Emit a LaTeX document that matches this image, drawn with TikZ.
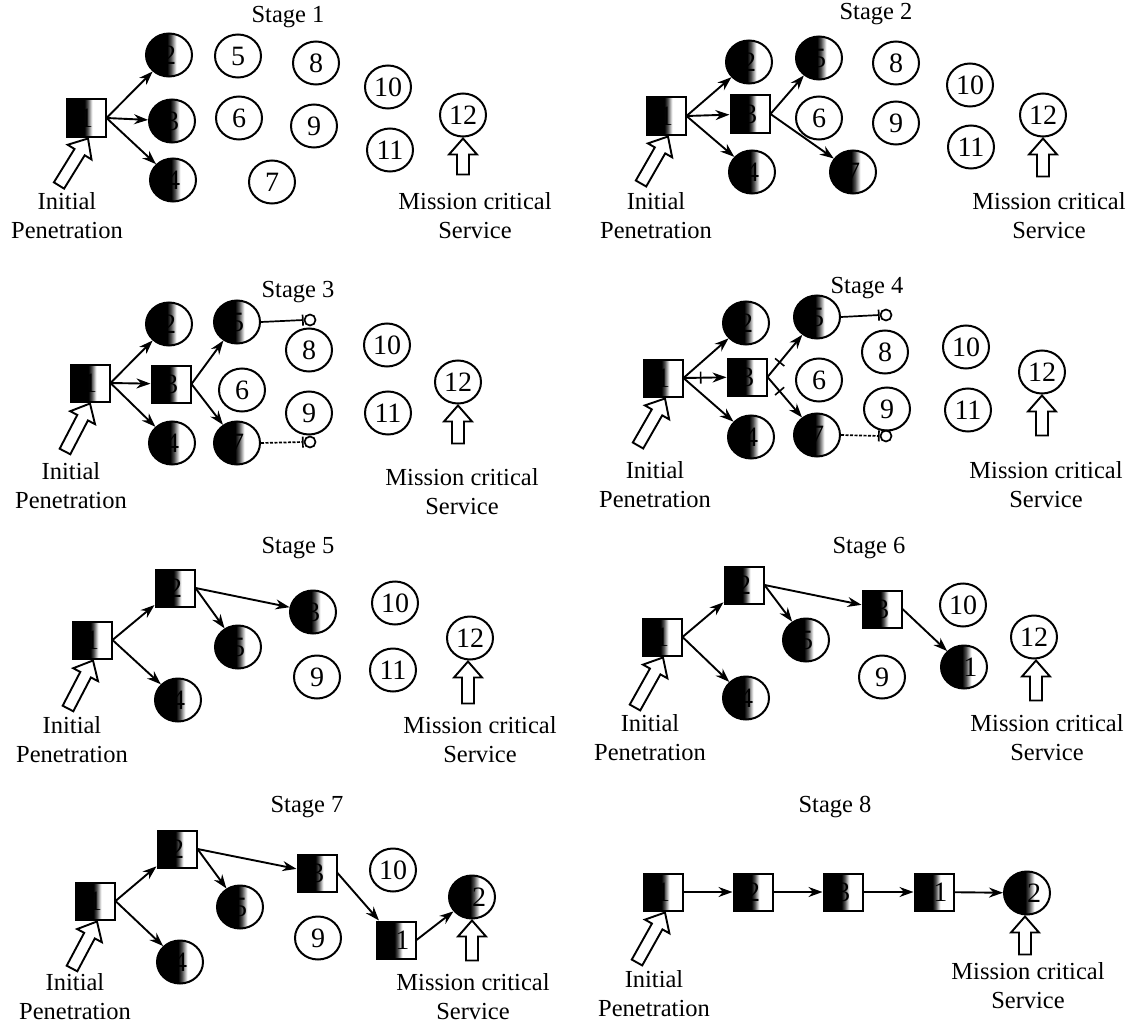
\documentclass[tikz,border=0pt]{standalone}
\usepackage{fontspec}
\setmainfont{Liberation Serif}
\usetikzlibrary{shapes.geometric,arrows.meta,calc}
\pgfdeclarehorizontalshading{halfdark}{100bp}{color(0bp)=(black); color(48bp)=(black); color(52bp)=(black!70); color(55bp)=(black!35); color(58bp)=(white); color(100bp)=(white)}
\newcommand\lblfont{\fontsize{24.5}{29}\selectfont}
\newcommand\digfont{\fontsize{28}{30}\selectfont}
\tikzset{
  wnode/.style={ellipse, draw, line width=2pt, minimum width=46pt, minimum height=43pt, inner sep=0pt, font=\digfont},
  bnode/.style={wnode, shading=halfdark},
  bsq/.style={rectangle, draw, line width=2pt, minimum width=39pt, minimum height=37pt, inner sep=0pt, shading=halfdark, font=\digfont},
  edge/.style={line width=1.9pt, -{Stealth[length=14pt,width=10pt]}},
  blk/.style={line width=1.7pt, -{Bar[width=11pt,line width=1.7pt]}},
  blkd/.style={blk, dash pattern=on 3pt off 1.5pt},
  tinyc/.style={circle, draw, line width=1.7pt, minimum size=11pt, inner sep=0pt},
  tick/.style={sloped, rectangle, draw, line width=1.6pt, minimum width=0pt, minimum height=12pt, inner sep=0pt},
  blockarr/.style={draw, line width=1.9pt, fill=white, line join=miter},
  lbl/.style={align=center, font=\lblfont},
  ttl/.style={font=\lblfont}
}
\newcommand\hollowarrow[2]{%
  \coordinate (habase) at ($(#2)!16pt!(#1)$);
  \draw[blockarr] (#2) -- ($(habase)!14pt!90:(#2)$) -- ($(habase)!6pt!90:(#2)$) -- ($(#1)!6pt!90:(#2)$) -- ($(#1)!6pt!-90:(#2)$) -- ($(habase)!6pt!-90:(#2)$) -- ($(habase)!14pt!-90:(#2)$) -- cycle;}
\begin{document}
\begin{tikzpicture}[x=1pt,y=-1pt]
\fill[white] (0,0) rectangle (1136,1025);
\useasboundingbox (0,0) rectangle (1136,1025);

% ---------------- Stage 1 ----------------
\node[ttl] (s1t) at (288,17) {Stage 1};
\node[bsq] (s1sq1) at (86,118) {1};
\node[bnode] (s1n2) at (169,55) {2};
\node[bnode] (s1n3) at (172,121) {3};
\node[bnode] (s1n4) at (173,180) {4};
\node[wnode] (s1n5) at (238,56) {5};
\node[wnode] (s1n6) at (239,118) {6};
\node[wnode] (s1n7) at (272,182) {7};
\node[wnode] (s1n8) at (316,63) {8};
\node[wnode] (s1n9) at (314,126) {9};
\node[wnode] (s1n10) at (388,87) {10};
\node[wnode] (s1n11) at (390,150) {11};
\node[wnode] (s1n12) at (463,115) {12};
\draw[edge] (s1sq1.east) -- (s1n2);
\draw[edge] (s1sq1.east) -- (s1n3);
\draw[edge] (s1sq1.east) -- (s1n4);
\node[lbl] (s1ip) at (67,216) {Initial\\Penetration};
\node[lbl] (s1mc) at (475,216) {Mission critical\\Service};
\coordinate (s1it) at ($(s1sq1.south)+(2,1)$);
\coordinate (s1ib) at ($(s1it)+(-29,47)$);
\hollowarrow{s1ib}{s1it}
\coordinate (s1mt) at ($(s1n12.south)+(0,1)$);
\coordinate (s1mb) at ($(s1mt)+(0,36)$);
\hollowarrow{s1mb}{s1mt}

% ---------------- Stage 2 ----------------
\node[ttl] (s2t) at (876,14) {Stage 2};
\node[bsq] (s2sq1) at (666,116) {1};
\node[bsq] (s2sq3) at (750,114) {3};
\node[bnode] (s2n2) at (749,62) {2};
\node[bnode] (s2n4) at (752,172) {4};
\node[bnode] (s2n5) at (819,58) {5};
\node[bnode] (s2n7) at (853,172) {7};
\node[wnode] (s2n6) at (819,118) {6};
\node[wnode] (s2n8) at (896,63) {8};
\node[wnode] (s2n9) at (896,123) {9};
\node[wnode] (s2n10) at (970,85) {10};
\node[wnode] (s2n11) at (971,147) {11};
\node[wnode] (s2n12) at (1043,115) {12};
\draw[edge] (s2sq1.east) -- (s2n2);
\draw[edge] (s2sq1.east) -- (s2sq3);
\draw[edge] (s2sq1.east) -- (s2n4);
\draw[edge] (s2sq3.east) -- (s2n5);
\draw[edge] (s2sq3.east) -- (s2n7);
\node[lbl] (s2ip) at (656,216) {Initial\\Penetration};
\node[lbl] (s2mc) at (1049,216) {Mission critical\\Service};
\coordinate (s2it) at ($(s2sq1.south)+(2,1)$);
\coordinate (s2ib) at ($(s2it)+(-27,47)$);
\hollowarrow{s2ib}{s2it}
\coordinate (s2mt) at ($(s2n12.south)+(0,1)$);
\coordinate (s2mb) at ($(s2mt)+(0,38)$);
\hollowarrow{s2mb}{s2mt}

% ---------------- Stage 3 ----------------
\node[ttl] (s3t) at (298,292) {Stage 3};
\node[bsq] (s3sq1) at (90,383) {1};
\node[bsq] (s3sq3) at (171,384) {3};
\node[bnode] (s3n2) at (169,324) {2};
\node[bnode] (s3n4) at (172,443) {4};
\node[bnode] (s3n5) at (237,322) {5};
\node[bnode] (s3n7) at (237,443) {7};
\node[wnode] (s3n6) at (242,390) {6};
\node[wnode] (s3n8) at (309,350) {8};
\node[wnode] (s3n9) at (309,413) {9};
\node[wnode] (s3n10) at (387,345) {10};
\node[wnode] (s3n11) at (388,413) {11};
\node[wnode] (s3n12) at (458,382) {12};
\node[tinyc] (s3b5) at (310,320) {};
\node[tinyc] (s3b7) at (310,442) {};
\draw[edge] (s3sq1.east) -- (s3n2);
\draw[edge] (s3sq1.east) -- (s3sq3);
\draw[edge] (s3sq1.east) -- (s3n4);
\draw[edge] (s3sq3.east) -- (s3n5);
\draw[edge] (s3sq3.east) -- (s3n7);
\draw[blk] (s3n5.east) -- (s3b5.west);
\draw[blkd] (s3n7.east) -- (s3b7.west);
\node[lbl] (s3ip) at (71,486) {Initial\\Penetration};
\node[lbl] (s3mc) at (462,492) {Mission critical\\Service};
\coordinate (s3it) at ($(s3sq1.south)+(0,1)$);
\coordinate (s3ib) at ($(s3it)+(-25,48)$);
\hollowarrow{s3ib}{s3it}
\coordinate (s3mt) at ($(s3n12.south)+(0,1)$);
\coordinate (s3mb) at ($(s3mt)+(0,38)$);
\hollowarrow{s3mb}{s3mt}

% ---------------- Stage 4 ----------------
\node[ttl] (s4t) at (867,288) {Stage 4};
\node[bsq] (s4sq1) at (663,378) {1};
\node[bsq] (s4sq3) at (747,377) {3};
\node[bnode] (s4n2) at (746,323) {2};
\node[bnode] (s4n4) at (751,437) {4};
\node[bnode] (s4n5) at (817,317) {5};
\node[bnode] (s4n7) at (817,435) {7};
\node[wnode] (s4n6) at (819,380) {6};
\node[wnode] (s4n8) at (885,352) {8};
\node[wnode] (s4n9) at (887,409) {9};
\node[wnode] (s4n10) at (966,347) {10};
\node[wnode] (s4n11) at (968,410) {11};
\node[wnode] (s4n12) at (1042,372) {12};
\node[tinyc] (s4b5) at (886,315) {};
\node[tinyc] (s4b7) at (886,436) {};
\draw[edge] (s4sq1.east) -- (s4n2);
\draw[edge] (s4sq1.east) -- node[tick, pos=0.4] (s4k1) {} (s4sq3);
\draw[edge] (s4sq1.east) -- (s4n4);
\draw[edge] (s4sq3.east) -- node[tick, pos=0.35] (s4k2) {} (s4n5);
\draw[edge] (s4sq3.east) -- node[tick, pos=0.35] (s4k3) {} (s4n7);
\draw[blk] (s4n5.east) -- (s4b5.west);
\draw[blkd] (s4n7.east) -- (s4b7.west);
\node[lbl] (s4ip) at (655,485) {Initial\\Penetration};
\node[lbl] (s4mc) at (1046,485) {Mission critical\\Service};
\coordinate (s4it) at ($(s4sq1.south)+(2,1)$);
\coordinate (s4ib) at ($(s4it)+(-27,47)$);
\hollowarrow{s4ib}{s4it}
\coordinate (s4mt) at ($(s4n12.south)+(0,1)$);
\coordinate (s4mb) at ($(s4mt)+(0,40)$);
\hollowarrow{s4mb}{s4mt}

% ---------------- Stage 5 ----------------
\node[ttl] (s5t) at (298,548) {Stage 5};
\node[bsq] (s5sq1) at (92,640) {1};
\node[bsq] (s5sq2) at (175,588) {2};
\node[bnode] (s5n3) at (313,612) {3};
\node[bnode] (s5n4) at (178,700) {4};
\node[bnode] (s5n5) at (238,647) {5};
\node[wnode] (s5n9) at (317,677) {9};
\node[wnode] (s5n10) at (395,603) {10};
\node[wnode] (s5n11) at (393,670) {11};
\node[wnode] (s5n12) at (470,638) {12};
\draw[edge] (s5sq1.east) -- (s5sq2);
\draw[edge] (s5sq1.east) -- (s5n4);
\draw[edge] (s5sq2.east) -- (s5n5);
\draw[edge] (s5sq2.east) -- (s5n3);
\node[lbl] (s5ip) at (72,740) {Initial\\Penetration};
\node[lbl] (s5mc) at (480,740) {Mission critical\\Service};
\coordinate (s5it) at ($(s5sq1.south)+(1,1)$);
\coordinate (s5ib) at ($(s5it)+(-25,48)$);
\hollowarrow{s5ib}{s5it}
\coordinate (s5mt) at ($(s5n12.south)+(-2,1)$);
\coordinate (s5mb) at ($(s5mt)+(0,42)$);
\hollowarrow{s5mb}{s5mt}

% ---------------- Stage 6 ----------------
\node[ttl] (s6t) at (869,548) {Stage 6};
\node[bsq] (s6sq1) at (662,637) {1};
\node[bsq] (s6sq2) at (744,585) {2};
\node[bsq] (s6sq3) at (882,609) {3};
\node[bnode] (s6n4) at (746,698) {4};
\node[bnode] (s6n5) at (806,640) {5};
\node[bnode] (s6n11) at (964,667) {11};
\node[wnode] (s6n9) at (882,677) {9};
\node[wnode] (s6n10) at (963,605) {10};
\node[wnode] (s6n12) at (1034,637) {12};
\draw[edge] (s6sq1.east) -- (s6sq2);
\draw[edge] (s6sq1.east) -- (s6n4);
\draw[edge] (s6sq2.east) -- (s6n5);
\draw[edge] (s6sq2.east) -- (s6sq3);
\draw[edge] (s6sq3.east) -- (s6n11);
\node[lbl] (s6ip) at (650,738) {Initial\\Penetration};
\node[lbl] (s6mc) at (1047,738) {Mission critical\\Service};
\coordinate (s6it) at ($(s6sq1.south)+(1,1)$);
\coordinate (s6ib) at ($(s6it)+(-28,50)$);
\hollowarrow{s6ib}{s6it}
\coordinate (s6mt) at ($(s6n12.south)+(2,1)$);
\coordinate (s6mb) at ($(s6mt)+(0,40)$);
\hollowarrow{s6mb}{s6mt}

% ---------------- Stage 7 ----------------
\node[ttl] (s7t) at (307,807) {Stage 7};
\node[bsq] (s7sq1) at (95,901) {1};
\node[bsq] (s7sq2) at (177,849) {2};
\node[bsq] (s7sq3) at (317,873) {3};
\node[bsq] (s7sq11) at (396,940) {11};
\node[bnode] (s7n4) at (180,962) {4};
\node[bnode] (s7n5) at (240,907) {5};
\node[bnode] (s7n12) at (472,897) {12};
\node[wnode] (s7n9) at (318,938) {9};
\node[wnode] (s7n10) at (393,870) {10};
\draw[edge] (s7sq1.east) -- (s7sq2);
\draw[edge] (s7sq1.east) -- (s7n4);
\draw[edge] (s7sq2.east) -- (s7n5);
\draw[edge] (s7sq2.east) -- (s7sq3);
\draw[edge] (s7sq3.east) -- (s7sq11);
\draw[edge] (s7sq11.east) -- (s7n12);
\node[lbl] (s7ip) at (75,997) {Initial\\Penetration};
\node[lbl] (s7mc) at (473,997) {Mission critical\\Service};
\coordinate (s7it) at ($(s7sq1.south)+(2,1)$);
\coordinate (s7ib) at ($(s7it)+(-25,47)$);
\hollowarrow{s7ib}{s7it}
\coordinate (s7mt) at ($(s7n12.south)+(0,1)$);
\coordinate (s7mb) at ($(s7mt)+(0,40)$);
\hollowarrow{s7mb}{s7mt}

% ---------------- Stage 8 ----------------
\node[ttl] (s8t) at (835,807) {Stage 8};
\node[bsq] (s8sq1) at (663,892) {1};
\node[bsq] (s8sq2) at (753,892) {2};
\node[bsq] (s8sq3) at (843,892) {3};
\node[bsq] (s8sq11) at (934,892) {11};
\node[bnode] (s8n12) at (1027,893) {12};
\draw[edge] (s8sq1) -- (s8sq2);
\draw[edge] (s8sq2) -- (s8sq3);
\draw[edge] (s8sq3) -- (s8sq11);
\draw[edge] (s8sq11) -- (s8n12);
\node[lbl] (s8ip) at (654,994) {Initial\\Penetration};
\node[lbl] (s8mc) at (1028,986) {Mission critical\\Service};
\coordinate (s8it) at ($(s8sq1.south)+(2,1)$);
\coordinate (s8ib) at ($(s8it)+(-28,50)$);
\hollowarrow{s8ib}{s8it}
\coordinate (s8mt) at ($(s8n12.south)+(-2,1)$);
\coordinate (s8mb) at ($(s8mt)+(0,38)$);
\hollowarrow{s8mb}{s8mt}
\end{tikzpicture}
\end{document}
